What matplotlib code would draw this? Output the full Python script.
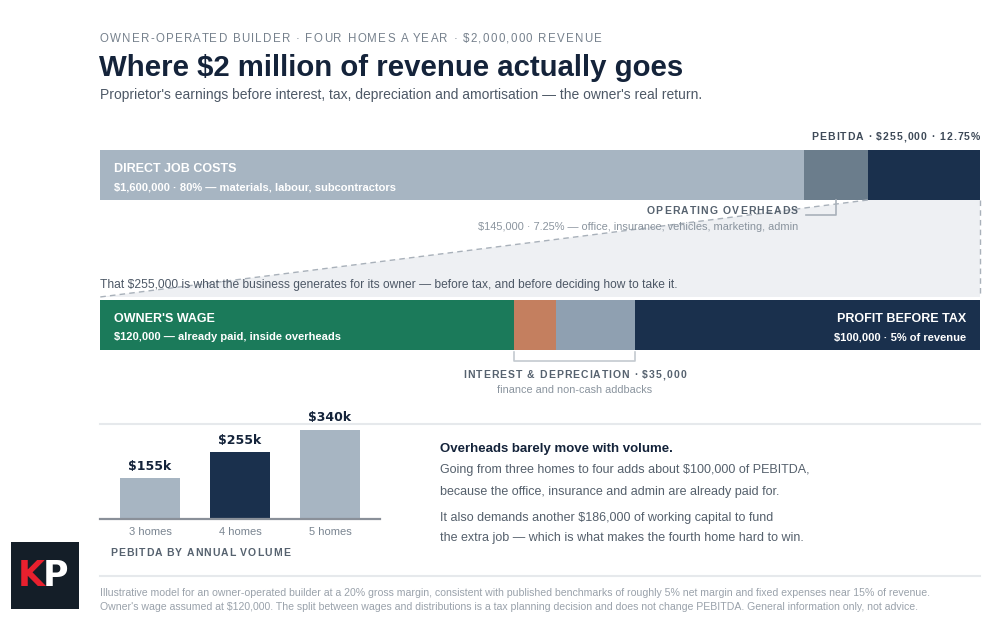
import matplotlib
matplotlib.use("Agg")
import matplotlib.pyplot as plt
from matplotlib.font_manager import FontProperties
from matplotlib.patches import Polygon, Rectangle

plt.rcParams["font.family"] = ["Liberation Sans", "DejaVu Sans"]

# ---- data ----
top_labels = ["Direct job costs", "Operating overheads", "PEBITDA"]
top_values = [1600000, 145000, 255000]
top_colors = ["#a7b5c2", "#6b7d8c", "#1a304d"]

split_labels = ["Owner's wage", "Interest", "Depreciation", "Profit before tax"]
split_values = [120000, 12000, 23000, 100000]
split_colors = ["#1b7a5a", "#c47f5f", "#8fa0b1", "#1a304d"]

volumes = ["3 homes", "4 homes", "5 homes"]
pebitda_k = [155, 255, 340]
vol_colors = ["#a7b5c2", "#1a304d", "#a7b5c2"]

W, H = 1000, 620
fig = plt.figure(figsize=(W / 100, H / 100), dpi=100)
fig.patch.set_facecolor("white")


def px_axes(x0, y0, x1, y1, **kw):
    # axes from pixel box (y measured from top)
    return fig.add_axes([x0 / W, 1 - y1 / H, (x1 - x0) / W, (y1 - y0) / H], **kw)


# stacked revenue bar
ax_top = px_axes(100, 150, 980, 200)
left = 0
for v, c in zip(top_values, top_colors):
    ax_top.barh(0, v, left=left, height=1, color=c, linewidth=0)
    left += v
ax_top.set_xlim(0, sum(top_values))
ax_top.set_ylim(-0.5, 0.5)
ax_top.axis("off")

# PEBITDA split bar
ax_bot = px_axes(100, 300, 980, 350)
left = 0
for v, c in zip(split_values, split_colors):
    ax_bot.barh(0, v, left=left, height=1, color=c, linewidth=0)
    left += v
ax_bot.set_xlim(0, sum(split_values))
ax_bot.set_ylim(-0.5, 0.5)
ax_bot.axis("off")

# small volume chart
ax_v = px_axes(100, 419, 380, 519)
ax_v.bar(range(3), pebitda_k, width=0.667, color=vol_colors, linewidth=0)
ax_v.set_xlim(-0.556, 2.556)
ax_v.set_ylim(0, 382)
for s in ["top", "left", "right"]:
    ax_v.spines[s].set_visible(False)
ax_v.spines["bottom"].set_color("#8a9099")
ax_v.spines["bottom"].set_linewidth(1.6)
ax_v.set_yticks([])
ax_v.set_xticks(range(3))
ax_v.set_xticklabels(volumes, fontsize=8, color="#7a8591")
ax_v.tick_params(axis="x", length=0, pad=6)
ax_v.patch.set_alpha(0)
for i, v in enumerate(pebitda_k):
    ax_v.annotate(f"${v}k", (i, v), xytext=(0, 4), textcoords="offset points",
                  ha="center", va="bottom", fontsize=9, fontweight="bold",
                  color="#14233a", family="DejaVu Sans")

# overlay in pixel coordinates
ov = fig.add_axes([0, 0, 1, 1], zorder=5)
ov.set_xlim(0, W)
ov.set_ylim(H, 0)
ov.axis("off")
ov.patch.set_alpha(0)

renderer = fig.canvas.get_renderer()


def to_px(ax, x, y):
    d = ax.transData.transform((x, y))
    return ov.transData.inverted().transform(d)


def spaced(x, y, s, size, spacing, color, weight="bold", ha="left"):
    prop = FontProperties(family="Liberation Sans", size=size, weight=weight)
    def w(t):
        return renderer.get_text_width_height_descent(t, prop, ismath=False)[0]
    bar = w("|")
    offs = [0] + [w(s[:i] + "|") - bar + i * spacing for i in range(1, len(s))]
    total = w(s) + (len(s) - 1) * spacing
    start = {"left": x, "right": x - total, "center": x - total / 2}[ha]
    for ch, o in zip(s, offs):
        ov.text(start + o, y, ch, fontproperties=prop, color=color, va="baseline", ha="left")


# header
spaced(100, 42, "OWNER-OPERATED BUILDER · FOUR HOMES A YEAR · $2,000,000 REVENUE", 8.3, 1.25,
       "#76818d", weight="normal")
ov.text(99, 76, "Where $2 million of revenue actually goes", fontsize=21.2, fontweight="bold",
        color="#14233a", va="baseline")
ov.text(100, 99, "Proprietor's earnings before interest, tax, depreciation and amortisation — the owner's real return.",
        fontsize=10, color="#4d5866", va="baseline")

# funnel from PEBITDA segment down to the split bar
p_left = to_px(ax_top, top_values[0] + top_values[1], -0.5)
p_right = to_px(ax_top, sum(top_values), -0.5)
b_left = to_px(ax_bot, 0, 0.5)
b_right = to_px(ax_bot, sum(split_values), 0.5)
gap = 3
ov.add_patch(Polygon([p_left, p_right, (b_right[0], b_right[1] - gap), (b_left[0], b_left[1] - gap)],
                     closed=True, facecolor="#eef0f3", edgecolor="none", zorder=0))
ov.plot([p_left[0], b_left[0]], [p_left[1], b_left[1] - gap], ls=(0, (4, 3)), color="#a9b1ba", lw=1, zorder=1)
ov.plot([p_right[0], b_right[0]], [p_right[1], b_right[1] - gap], ls=(0, (4, 3)), color="#a9b1ba", lw=1, zorder=1)

# top bar labels
spaced(980, 140, "PEBITDA · $255,000 · 12.75%", 7.5, 1.0, "#3e4a58", ha="right")
ov.text(114, 172, "DIRECT JOB COSTS", fontsize=9, fontweight="bold", color="white", va="baseline")
ov.text(114, 190, "$1,600,000 · 80% — materials, labour, subcontractors", fontsize=8, fontweight="bold",
        color="white", va="baseline")

oh_mid = to_px(ax_top, top_values[0] + top_values[1] / 2, -0.5)
ov.plot([oh_mid[0], oh_mid[0], oh_mid[0] - 30], [oh_mid[1], oh_mid[1] + 15, oh_mid[1] + 15],
        color="#a9b1ba", lw=1.2, zorder=2)
spaced(798, 214, "OPERATING OVERHEADS", 7.5, 1.2, "#56626f", ha="right")
ov.text(798, 230, "$145,000 · 7.25% — office, insurance, vehicles, marketing, admin", fontsize=7.9,
        color="#8a949e", va="baseline", ha="right")

ov.text(100, 288, "That $255,000 is what the business generates for its owner — before tax, and before deciding how to take it.",
        fontsize=8.65, color="#4d5866", va="baseline")

# split bar labels
ov.text(114, 322, "OWNER'S WAGE", fontsize=9, fontweight="bold", color="white", va="baseline")
ov.text(114, 340, "$120,000 — already paid, inside overheads", fontsize=8, fontweight="bold",
        color="white", va="baseline")
ov.text(966, 322, "PROFIT BEFORE TAX", fontsize=9, fontweight="bold", color="white", va="baseline", ha="right")
ov.text(966, 340, "$100,000 · 5% of revenue", fontsize=8, fontweight="bold", color="white",
        va="baseline", ha="right")

i_left = to_px(ax_bot, split_values[0], -0.5)
i_right = to_px(ax_bot, sum(split_values[:3]), -0.5)
ov.plot([i_left[0], i_left[0], i_right[0], i_right[0]],
        [i_left[1] + 2, i_left[1] + 11, i_left[1] + 11, i_left[1] + 2], color="#c4cad0", lw=1.2)
mid_x = (i_left[0] + i_right[0]) / 2
spaced(mid_x, 378, "INTEREST & DEPRECIATION · $35,000", 7.5, 1.05, "#56626f", ha="center")
ov.text(mid_x, 393, "finance and non-cash addbacks", fontsize=7.85, color="#8a949e", va="baseline", ha="center")

# separators
ov.plot([100, 980], [424, 424], color="#e6e9ec", lw=1.5, zorder=0)
ov.plot([100, 980], [576, 576], color="#e6e9ec", lw=1.5, zorder=0)

spaced(110, 556, "PEBITDA BY ANNUAL VOLUME", 7.5, 1.0, "#56626f")

# text block
ov.text(440, 452, "Overheads barely move with volume.", fontsize=9.5, fontweight="bold",
        color="#14233a", va="baseline")
body = ["Going from three homes to four adds about $100,000 of PEBITDA,",
        "because the office, insurance and admin are already paid for.",
        "It also demands another $186,000 of working capital to fund",
        "the extra job — which is what makes the fourth home hard to win."]
for y, line in zip([473, 495, 521, 541], body):
    ov.text(440, y, line, fontsize=9, color="#55606c", va="baseline")

# footer
ov.text(100, 596, "Illustrative model for an owner-operated builder at a 20% gross margin, consistent with published benchmarks of roughly 5% net margin and fixed expenses near 15% of revenue.",
        fontsize=7.55, color="#9aa2ab", va="baseline")
ov.text(100, 610, "Owner's wage assumed at $120,000. The split between wages and distributions is a tax planning decision and does not change PEBITDA. General information only, not advice.",
        fontsize=7.55, color="#9aa2ab", va="baseline")

# logo
ov.add_patch(Rectangle((11, 542), 68, 67, facecolor="#141e28", edgecolor="none"))
ov.text(45, 576, "K", fontsize=25, fontweight="bold", color="#e8202e", ha="right", va="center",
        family="DejaVu Sans")
ov.text(43, 576, "P", fontsize=25, fontweight="bold", color="white", ha="left", va="center",
        family="DejaVu Sans")

fig.savefig("out.png", dpi=100, facecolor="white")
